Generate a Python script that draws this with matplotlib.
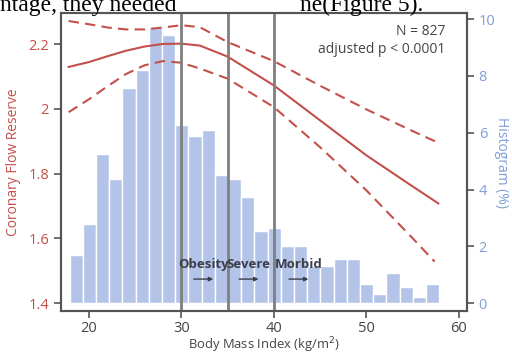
import matplotlib
matplotlib.use("Agg")
import matplotlib.pyplot as plt
import numpy as np

plt.rcParams['font.family'] = ['Open Sans', 'DejaVu Sans']

# histogram of BMI (percent per bin), 28 bins between 17.9 and 57.9
bin_edges = np.linspace(17.9, 57.9, 29)
hist_pct = [1.69, 2.78, 5.27, 4.37, 7.58, 8.20, 9.71, 9.44, 6.26, 5.87,
            6.10, 4.50, 4.38, 3.74, 2.54, 2.65, 2.03, 2.03, 1.30, 1.30,
            1.54, 1.54, 0.69, 0.33, 1.06, 0.57, 0.20, 0.69]

# fitted coronary flow reserve with 95% band
fit_bmi = [17.8, 20, 22, 24, 26, 28, 30, 32, 35, 40, 45, 50, 55, 57.8]
fit_cfr = [2.130, 2.145, 2.163, 2.180, 2.193, 2.201, 2.202, 2.196, 2.162,
           2.073, 1.965, 1.857, 1.761, 1.708]
upper_bmi = [17.8, 20, 22, 24, 26, 28, 30, 32, 35, 40, 45, 50, 55, 57.6]
upper_cfr = [2.272, 2.262, 2.252, 2.246, 2.246, 2.252, 2.259, 2.253, 2.207,
             2.148, 2.072, 1.999, 1.932, 1.898]
lower_bmi = [17.8, 20, 22, 24, 26, 28, 30, 32, 35, 40, 45, 50, 55, 57.4]
lower_cfr = [1.990, 2.030, 2.070, 2.108, 2.135, 2.148, 2.143, 2.125, 2.094,
             2.006, 1.882, 1.749, 1.601, 1.528]

cutoffs = [30, 35, 40]
classes = ["Obesity", "Severe", "Morbid"]
class_x = [32.4, 37.3, 42.7]

red = '#c4504a'
blue = '#7f9dd6'
dark = '#3a3f48'

fig = plt.figure(figsize=(5.12, 3.58), dpi=100)
ax = fig.add_axes([0.119, 0.131, 0.793, 0.832])
ax2 = ax.twinx()
ax.set_zorder(ax2.get_zorder() + 1)
ax.patch.set_visible(False)

ax2.bar(bin_edges[:-1], hist_pct, width=np.diff(bin_edges), align='edge',
        color='#b4c4e9', edgecolor='white', linewidth=1.0)

ax.plot(fit_bmi, fit_cfr, color=red, lw=1.5)
ax.plot(upper_bmi, upper_cfr, color=red, lw=1.5, dashes=(5, 3))
ax.plot(lower_bmi, lower_cfr, color=red, lw=1.5, dashes=(5, 3))

for c in cutoffs:
    ax.axvline(c, color='#7f7f7f', lw=2)

for name, xc in zip(classes, class_x):
    ax.text(xc, 1.518, name, ha='center', va='center', fontsize=9.5,
            fontweight='bold', color=dark)
    ax.annotate('', xy=(xc + 1.05, 1.474), xytext=(xc - 1.05, 1.474),
                arrowprops=dict(arrowstyle='-|>', color=dark, lw=1,
                                mutation_scale=6, shrinkA=0, shrinkB=0))

ax.text(0.947, 0.965, "N = 827", transform=ax.transAxes, ha='right', va='top',
        fontsize=10, color='#444444')
ax.text(0.947, 0.905, "adjusted p < 0.0001", transform=ax.transAxes,
        ha='right', va='top', fontsize=10, color='#444444')

ax.set_xlim(16.97, 60.9)
ax.set_ylim(1.375, 2.296)
ax2.set_ylim(-0.28, 10.21)
ax.set_xticks([20, 30, 40, 50, 60])
ax.set_yticks([1.4, 1.6, 1.8, 2.0, 2.2])
ax.set_yticklabels(["1.4", "1.6", "1.8", "2", "2.2"])
ax2.set_yticks([0, 2, 4, 6, 8, 10])

for a in (ax, ax2):
    for s in a.spines.values():
        s.set_color('#555555')
        s.set_linewidth(1.5)
ax.tick_params(axis='x', colors='#555555', labelcolor='#444444',
               labelsize=10.5, length=5, width=1.2, pad=2)
ax.tick_params(axis='y', colors='#555555', labelcolor=red, labelsize=10.5,
               length=5, width=1.2)
ax2.tick_params(axis='y', colors='#555555', labelcolor=blue, labelsize=10.5,
                length=5, width=1.2)

ax.set_xlabel("Body Mass Index (kg/m$^2$)", fontsize=9.4, color='#444444',
              labelpad=0)
ax.set_ylabel("Coronary Flow Reserve", fontsize=10, color=red, labelpad=5)
ax2.set_ylabel("Histogram (%)", fontsize=10, color=blue, rotation=270,
               labelpad=10)

# cut-off line of the surrounding paper text
fig.text(0.0, 1 - 11 / 358, "ntage, they needed", fontsize=17,
         family='Liberation Serif', va='baseline', ha='left', color='black')
fig.text(300 / 512, 1 - 11 / 358, "ne(Figure 5).", fontsize=17,
         family='Liberation Serif', va='baseline', ha='left', color='black')

fig.savefig("out.png", dpi=100)
